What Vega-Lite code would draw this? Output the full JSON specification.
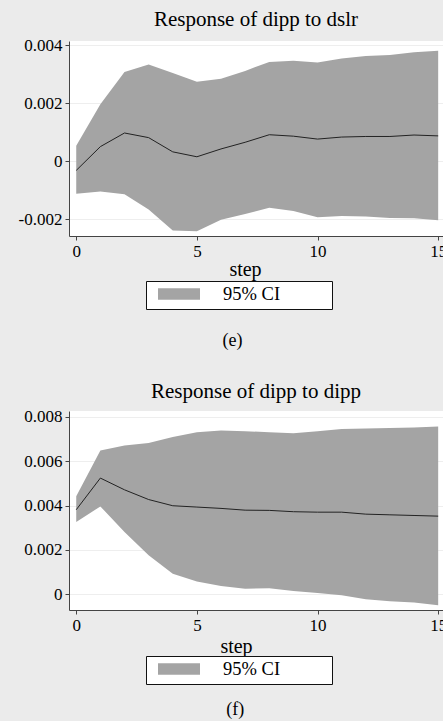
{
  "$schema": "https://vega.github.io/schema/vega-lite/v6.json",
  "background": "#ebebeb",
  "padding": {"left": 18, "top": 9, "right": 0, "bottom": 2},
  "config": {
    "font": "Liberation Serif",
    "view": {"stroke": null, "fill": "white"},
    "title": {"font": "Liberation Serif", "fontSize": 21, "fontWeight": "normal", "color": "#000", "anchor": "middle", "offset": 6},
    "axis": {
      "labelFont": "Liberation Serif", "labelFontSize": 17, "labelColor": "#000",
      "titleFont": "Liberation Serif", "titleFontSize": 20, "titleFontWeight": "normal", "titleColor": "#000",
      "domainColor": "#444", "tickColor": "#444", "tickSize": 4, "labelPadding": 3,
      "gridColor": "#eeeeee", "gridWidth": 1
    },
    "legend": {
      "labelFont": "Liberation Serif", "labelFontSize": 18.5, "labelColor": "#000"
    }
  },
  "datasets": {
    "e": [
      {"step": 0, "irf": -0.00031, "lo": -0.00111, "hi": 0.00054},
      {"step": 1, "irf": 0.00051, "lo": -0.00104, "hi": 0.00197},
      {"step": 2, "irf": 0.00098, "lo": -0.00113, "hi": 0.00308},
      {"step": 3, "irf": 0.00082, "lo": -0.00166, "hi": 0.00334},
      {"step": 4, "irf": 0.00033, "lo": -0.00238, "hi": 0.00305},
      {"step": 5, "irf": 0.00016, "lo": -0.00241, "hi": 0.00275},
      {"step": 6, "irf": 0.00043, "lo": -0.00201, "hi": 0.00285},
      {"step": 7, "irf": 0.00066, "lo": -0.00181, "hi": 0.00312},
      {"step": 8, "irf": 0.00092, "lo": -0.0016, "hi": 0.00343},
      {"step": 9, "irf": 0.00087, "lo": -0.00171, "hi": 0.00347},
      {"step": 10, "irf": 0.00077, "lo": -0.00192, "hi": 0.00341},
      {"step": 11, "irf": 0.00084, "lo": -0.00188, "hi": 0.00355},
      {"step": 12, "irf": 0.00086, "lo": -0.0019, "hi": 0.00363},
      {"step": 13, "irf": 0.00086, "lo": -0.00195, "hi": 0.00367},
      {"step": 14, "irf": 0.00091, "lo": -0.00196, "hi": 0.00376},
      {"step": 15, "irf": 0.00088, "lo": -0.00203, "hi": 0.00381}
    ],
    "f": [
      {"step": 0, "irf": 0.00381, "lo": 0.00325, "hi": 0.00442},
      {"step": 1, "irf": 0.00524, "lo": 0.00396, "hi": 0.00649},
      {"step": 2, "irf": 0.00471, "lo": 0.0028, "hi": 0.00671},
      {"step": 3, "irf": 0.00427, "lo": 0.00175, "hi": 0.00683},
      {"step": 4, "irf": 0.00399, "lo": 0.00092, "hi": 0.00709},
      {"step": 5, "irf": 0.00393, "lo": 0.00057, "hi": 0.00731},
      {"step": 6, "irf": 0.00387, "lo": 0.00036, "hi": 0.00739},
      {"step": 7, "irf": 0.00379, "lo": 0.00024, "hi": 0.00736},
      {"step": 8, "irf": 0.00378, "lo": 0.00026, "hi": 0.00731},
      {"step": 9, "irf": 0.00372, "lo": 0.00014, "hi": 0.00727},
      {"step": 10, "irf": 0.0037, "lo": 0.00005, "hi": 0.00736},
      {"step": 11, "irf": 0.0037, "lo": -0.00005, "hi": 0.00746},
      {"step": 12, "irf": 0.00361, "lo": -0.00023, "hi": 0.00748},
      {"step": 13, "irf": 0.00358, "lo": -0.00032, "hi": 0.0075},
      {"step": 14, "irf": 0.00355, "lo": -0.00038, "hi": 0.00753},
      {"step": 15, "irf": 0.00352, "lo": -0.0005, "hi": 0.00757}
    ]
  },
  "spacing": 30,
  "resolve": {"scale": {"color": "independent"}, "legend": {"color": "independent"}},
  "vconcat": [
    {
      "title": {"text": "(e)", "orient": "bottom", "fontSize": 18, "offset": 22},
      "vconcat": [
        {
          "width": 374,
          "height": 195,
          "title": {"text": "Response of dipp to dslr"},
          "data": {"name": "e"},
          "encoding": {
            "x": {
              "field": "step", "type": "quantitative",
              "scale": {"domain": [-0.3, 15.2], "nice": false, "zero": false},
              "axis": {"values": [0, 5, 10, 15], "grid": false, "title": "step", "titlePadding": 0, "titleX": 176}
            }
          },
          "layer": [
            {
              "mark": {"type": "area", "opacity": 1},
              "encoding": {
                "y": {
                  "field": "lo", "type": "quantitative",
                  "scale": {"domain": [-0.00257, 0.00415], "nice": false, "zero": false},
                  "axis": {"values": [-0.002, 0, 0.002, 0.004], "title": null, "grid": true,
                    "labelExpr": "datum.value == 0 ? '0' : replace(format(datum.value, '.3f'), '\u2212', '-')"}
                },
                "y2": {"field": "hi"},
                "color": {
                  "datum": "95% CI", "type": "nominal",
                  "scale": {"range": ["#a4a4a4"]},
                  "legend": {
                    "title": null, "orient": "none", "legendX": 77, "legendY": 240,
                    "direction": "horizontal", "fillColor": "white", "strokeColor": "#111",
                    "padding": 5, "clipHeight": 16,
                    "symbolType": "M-1,-0.27H1V0.27H-1Z", "symbolSize": 1764,
                    "symbolStrokeWidth": 0, "symbolOpacity": 1, "symbolOffset": 7,
                    "labelOffset": 23, "labelLimit": 200,
                    "labelExpr": "datum.label + '\u2003\u2003\u2002\u200b'"
                  }
                }
              }
            },
            {
              "mark": {"type": "line", "color": "#222", "strokeWidth": 1},
              "encoding": {"y": {"field": "irf", "type": "quantitative"}}
            }
          ]
        }
      ]
    },
    {
      "title": {"text": "(f)", "orient": "bottom", "fontSize": 18, "offset": 16},
      "vconcat": [
        {
          "width": 374,
          "height": 199,
          "title": {"text": "Response of dipp to dipp"},
          "data": {"name": "f"},
          "encoding": {
            "x": {
              "field": "step", "type": "quantitative",
              "scale": {"domain": [-0.3, 15.2], "nice": false, "zero": false},
              "axis": {"values": [0, 5, 10, 15], "grid": false, "title": "step", "titlePadding": 3, "titleX": 167}
            }
          },
          "layer": [
            {
              "mark": {"type": "area", "opacity": 1},
              "encoding": {
                "y": {
                  "field": "lo", "type": "quantitative",
                  "scale": {"domain": [-0.00072, 0.00827], "nice": false, "zero": false},
                  "axis": {"values": [0, 0.002, 0.004, 0.006, 0.008], "title": null, "grid": true,
                    "labelExpr": "datum.value == 0 ? '0' : replace(format(datum.value, '.3f'), '\u2212', '-')"}
                },
                "y2": {"field": "hi"},
                "color": {
                  "datum": "95% CI", "type": "nominal",
                  "scale": {"range": ["#a4a4a4"]},
                  "legend": {
                    "title": null, "orient": "none", "legendX": 77, "legendY": 245,
                    "direction": "horizontal", "fillColor": "white", "strokeColor": "#111",
                    "padding": 5, "clipHeight": 16,
                    "symbolType": "M-1,-0.27H1V0.27H-1Z", "symbolSize": 1764,
                    "symbolStrokeWidth": 0, "symbolOpacity": 1, "symbolOffset": 7,
                    "labelOffset": 23, "labelLimit": 200,
                    "labelExpr": "datum.label + '\u2003\u2003\u2002\u200b'"
                  }
                }
              }
            },
            {
              "mark": {"type": "line", "color": "#222", "strokeWidth": 1},
              "encoding": {"y": {"field": "irf", "type": "quantitative"}}
            }
          ]
        }
      ]
    }
  ]
}
